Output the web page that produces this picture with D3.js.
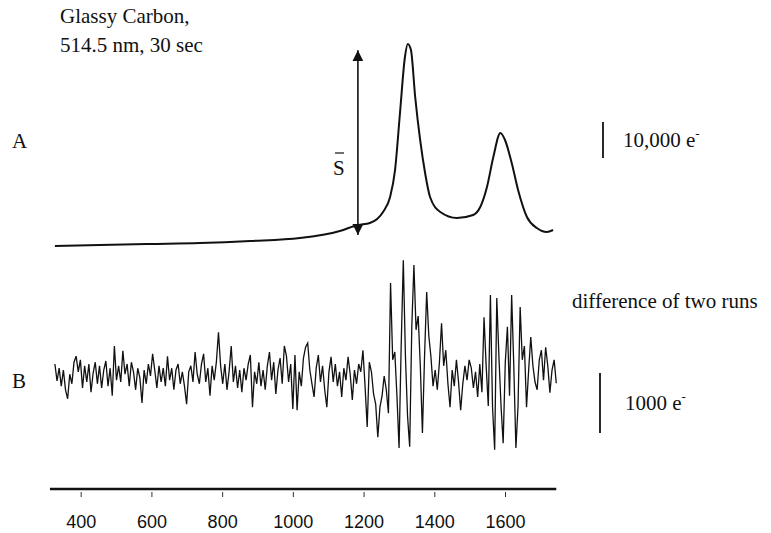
<!DOCTYPE html>
<html>
<head>
<meta charset="utf-8">
<script src="https://cdn.jsdelivr.net/npm/d3@7"></script>
<style>
	body { margin: 0; background: #fff; }
	svg { display: block; }
	.serif { font-family: 'Liberation Serif', 'Times New Roman', serif; fill: #111; }
	.tick text { font-family: 'Liberation Sans', Arial, sans-serif; font-size: 18px; fill: #111; }
</style>
</head>
<body>
<svg id="chart" width="771" height="533"></svg>
<script>
const WIDTH = 771;
const HEIGHT = 533;

// x axis (Raman shift, cm-1)
const xTicks = [400, 600, 800, 1000, 1200, 1400, 1600];
const xExtent = [313, 1745];

// trace A: glassy carbon spectrum, [wavenumber, electrons]
const spectrumA = [
	[327, 1110], [455, 1390], [596, 1670], [737, 1940], [879, 2500],
	[1020, 3330], [1133, 5280], [1184, 6940], [1218, 7500], [1255, 10560],
	[1275, 14720], [1289, 22220], [1303, 38060], [1317, 53610], [1325, 57220],
	[1334, 55560], [1346, 42500], [1360, 30560], [1374, 21390], [1388, 14720],
	[1417, 10560], [1464, 8890], [1510, 9720], [1530, 11940], [1549, 17500],
	[1567, 25830], [1587, 32500], [1600, 30560], [1619, 24170], [1637, 16670],
	[1662, 9170], [1690, 6110], [1718, 5000], [1736, 5560]
];

// trace B: difference of two runs, electrons, evenly spaced from 327 to 1745
const diffRange = [327, 1745];
const diffB = [
	200, -80, 130, -170, 100, -230, -380, 30, -130, 230,
	330, 70, 270, -200, 170, -100, 200, -270, 50, 230,
	-130, 170, -200, 100, 250, -170, 130, -330, 500, -70,
	170, -100, 420, 30, 200, -170, 230, 70, -230, 130,
	-30, -450, 100, -130, 200, 0, 370, 100, -200, 170,
	-100, 130, -170, 330, -70, 130, -230, 100, 200, -130,
	70, -170, -470, 70, 170, -100, 400, 30, -130, 200,
	370, -100, 130, -330, 170, -70, 230, 730, 170, -130,
	200, -230, 70, 500, -100, 170, -200, 100, -270, 130,
	-70, 200, 350, -520, 70, -130, 230, -170, 100, -230,
	170, 400, -70, 230, -300, 100, 300, -130, 500, 330,
	-100, 200, -550, 350, -570, 70, -170, 300, 480, 550,
	100, -130, -350, 130, 350, -100, 170, -230, -520, 70,
	320, -100, 200, -170, 70, -350, 130, -70, 320, 30,
	-400, 100, -130, 200, 70, 430, -170, -850, 230, 70,
	-300, -470, -1020, -520, -330, 0, -230, -620, 1550, 270,
	400, -330, -1200, 500, 1930, 330, -670, -1180, 830, 1850,
	770, 1000, 170, -950, 330, 1400, 670, 320, -170, 100,
	-230, 230, 880, 170, 430, -130, -520, 100, -170, 270,
	-100, -570, -130, 170, -70, 270, 130, -200, 70, -350,
	200, -270, 980, 170, -500, 1350, -520, -1230, 1300, 330,
	-500, -1120, 230, 820, -330, 1350, 170, -1200, -500, 1150,
	270, 500, -520, 100, 650, 170, -100, -230, 270, 430,
	-70, 480, 170, -280, 100, 270, -120
];

// scale bars
const barA = 10000;
const barB = 1000;

const svg = d3.select('#chart');

const x = d3.scaleLinear().domain([400, 1600]).range([80.7, 505]);
const yA = d3.scaleLinear().domain([0, 10000]).range([250, 214]);
const yB = d3.scaleLinear().domain([0, 1000]).range([376, 316]);

const diffX = d3.scaleLinear().domain([0, diffB.length - 1]).range(diffRange);

// trace A
const lineA = d3.line()
	.x(d => x(d[0]))
	.y(d => yA(d[1]))
	.curve(d3.curveMonotoneX);

svg.append('path')
	.datum(spectrumA)
	.attr('d', lineA)
	.attr('fill', 'none')
	.attr('stroke', '#111')
	.attr('stroke-width', 2);

// trace B
const lineB = d3.line()
	.x((d, i) => x(diffX(i)))
	.y(d => yB(d));

svg.append('path')
	.datum(diffB)
	.attr('d', lineB)
	.attr('fill', 'none')
	.attr('stroke', '#111')
	.attr('stroke-width', 1.3)
	.attr('stroke-linejoin', 'miter');

// x axis: solid line, ticks hang below with a small gap
svg.append('line')
	.attr('x1', x(xExtent[0]))
	.attr('x2', x(xExtent[1]))
	.attr('y1', 489)
	.attr('y2', 489)
	.attr('stroke', '#111')
	.attr('stroke-width', 2.5);

const axis = svg.append('g')
	.attr('transform', 'translate(0,492)')
	.call(d3.axisBottom(x).tickValues(xTicks).tickSize(5).tickPadding(18).tickFormat(d3.format('d')));
axis.select('.domain').remove();
axis.selectAll('.tick line').attr('stroke', '#333').attr('stroke-width', 1);

// S arrow (peak height)
const arrowX = 1184;
const defs = svg.append('defs');
defs.append('marker')
	.attr('id', 'head')
	.attr('viewBox', '0 0 10 10')
	.attr('refX', 10)
	.attr('refY', 5)
	.attr('markerWidth', 11)
	.attr('markerHeight', 11)
	.attr('markerUnits', 'userSpaceOnUse')
	.attr('orient', 'auto-start-reverse')
	.append('path')
	.attr('d', 'M0,0L10,5L0,10Z')
	.attr('fill', '#111');

svg.append('line')
	.attr('x1', x(arrowX))
	.attr('x2', x(arrowX))
	.attr('y1', yA(55500))
	.attr('y2', yA(4200))
	.attr('stroke', '#111')
	.attr('stroke-width', 1.6)
	.attr('marker-start', 'url(#head)')
	.attr('marker-end', 'url(#head)');

// labels
const text = (t, px, py, size) => svg.append('text')
	.attr('class', 'serif')
	.attr('x', px)
	.attr('y', py)
	.style('font-size', size + 'px')
	.text(t);

text('Glassy Carbon,', 60, 23, 21);
text('514.5 nm, 30 sec', 60, 52, 21);
text('A', 12, 148, 21);
text('B', 12, 388, 21);
text('difference of two runs', 572, 308, 21);

text('S', 333, 175, 21);
svg.append('line')
	.attr('x1', 335).attr('x2', 344)
	.attr('y1', 153).attr('y2', 153)
	.attr('stroke', '#111').attr('stroke-width', 1.2);

// scale bars with e- labels
function scaleBar(px, y, value, label, tx) {
	svg.append('line')
		.attr('x1', px).attr('x2', px)
		.attr('y1', y(0)).attr('y2', y(value))
		.attr('stroke', '#111')
		.attr('stroke-width', 1.8);
	const mid = (y(0) + y(value)) / 2;
	const t = text(label + ' e', tx, mid + 7, 21);
	t.append('tspan')
		.attr('dy', -9)
		.style('font-size', '13px')
		.text('-');
}

const yBarA = d3.scaleLinear().domain([0, 10000]).range([158, 122]);
scaleBar(603, d => yBarA(d), barA, '10,000', 623);
const yBarB = d3.scaleLinear().domain([0, 1000]).range([433, 373]);
scaleBar(600, d => yBarB(d), barB, '1000', 625);
</script>
</body>
</html>
